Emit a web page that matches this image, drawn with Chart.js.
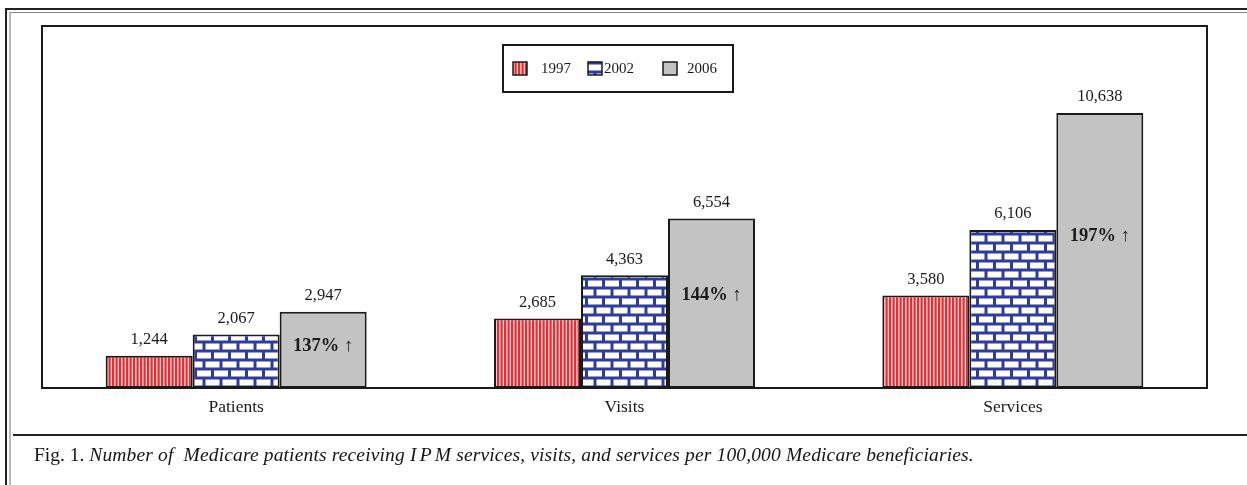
<!DOCTYPE html>
<html>
<head>
<meta charset="utf-8">
<script src="https://cdn.jsdelivr.net/npm/chart.js@4/dist/chart.umd.min.js"></script>
<style>
  html, body { margin: 0; padding: 0; background: #fff; }
  #wrap { position: relative; width: 1247px; height: 485px; overflow: hidden; }
  #chart { position: absolute; left: 0; top: 0; }
  #caption {
    position: absolute; left: 34px; top: 444px; white-space: nowrap;
    font-family: "Liberation Serif", serif; font-size: 19.5px; color: #151515;
  }
  #caption i { letter-spacing: 0.15px; }
  #caption .abbr { letter-spacing: 3.2px; }
</style>
</head>
<body>
<div id="wrap">
  <canvas id="chart" width="1247" height="485"></canvas>
  <div id="caption">Fig. 1. <i>Number of&nbsp; Medicare patients receiving <span class="abbr">IP</span>M services, visits, and services per 100,000 Medicare beneficiaries.</i></div>
</div>
<script>
// Medicare IPM utilisation per 100,000 beneficiaries
const categories = ['Patients', 'Visits', 'Services'];
const years = ['1997', '2002', '2006'];
const values1997 = [1244, 2685, 3580];
const values2002 = [2067, 4363, 6106];
const values2006 = [2947, 6554, 10638];

const SERIF = '"Liberation Serif", "Times New Roman", serif';
const INK = '#1a1a1a';

// --- fill patterns -------------------------------------------------------
function stripePattern() {
  const c = document.createElement('canvas');
  c.width = 7; c.height = 8;
  const g = c.getContext('2d');
  g.fillStyle = '#fcdcdc';
  g.fillRect(0, 0, 7, 8);
  g.fillStyle = '#ec2a30';
  g.fillRect(0, 0, 2.2, 8);
  g.fillRect(3.5, 0, 2.2, 8);
  return g.createPattern(c, 'repeat');
}
function brickPattern() {
  const c = document.createElement('canvas');
  c.width = 17; c.height = 18;
  const g = c.getContext('2d');
  g.fillStyle = '#2f3c9c';
  g.fillRect(0, 0, 17, 18);
  g.fillStyle = '#ffffff';
  g.fillRect(1.5, 1.5, 14, 6);
  g.fillRect(-7, 10.5, 14, 6);
  g.fillRect(10, 10.5, 14, 6);
  return g.createPattern(c, 'repeat');
}
const fills = [stripePattern(), brickPattern(), '#c3c3c3'];

// --- plugins ---------------------------------------------------------------
const framePlugin = {
  id: 'frame',
  beforeDraw(chart) {
    const { ctx, chartArea: a } = chart;
    ctx.save();
    // outer page frame (double rule at top and left)
    ctx.strokeStyle = '#222'; ctx.lineWidth = 2;
    ctx.beginPath();
    ctx.moveTo(6, 485); ctx.lineTo(6, 9); ctx.lineTo(1247, 9);
    ctx.stroke();
    ctx.strokeStyle = '#8a8a8a'; ctx.lineWidth = 1.2;
    ctx.beginPath();
    ctx.moveTo(10, 485); ctx.lineTo(10, 12.5); ctx.lineTo(1247, 12.5);
    ctx.stroke();
    // rule above the caption
    ctx.strokeStyle = '#222'; ctx.lineWidth = 2;
    ctx.beginPath();
    ctx.moveTo(13, 435); ctx.lineTo(1247, 435);
    ctx.stroke();
    // plot box
    ctx.strokeStyle = INK; ctx.lineWidth = 2;
    ctx.strokeRect(a.left, a.top, a.right - a.left, a.bottom - a.top);
    ctx.restore();
  }
};

const labelPlugin = {
  id: 'valueLabels',
  afterDatasetsDraw(chart) {
    const { ctx } = chart;
    const y = chart.scales.y;
    ctx.save();
    ctx.fillStyle = INK;
    ctx.textAlign = 'center';
    ctx.textBaseline = 'middle';
    ctx.font = '16.5px ' + SERIF;
    chart.data.datasets.forEach((ds, di) => {
      chart.getDatasetMeta(di).data.forEach((bar, i) => {
        ctx.fillText(ds.data[i].toLocaleString('en-US'), bar.x, bar.y - 16);
      });
    });
    // growth from 1997 to 2006, written inside the 2006 bar
    ctx.font = 'bold 18.5px ' + SERIF;
    chart.getDatasetMeta(2).data.forEach((bar, i) => {
      const pct = Math.round((values2006[i] - values1997[i]) / values1997[i] * 100);
      ctx.fillText(pct + '% \u2191', bar.x, y.getPixelForValue(values2006[i] * 0.55));
    });
    ctx.restore();
  }
};

const legendPlugin = {
  id: 'boxLegend',
  afterDraw(chart) {
    const { ctx } = chart;
    ctx.save();
    ctx.strokeStyle = INK; ctx.lineWidth = 2;
    ctx.strokeRect(503, 45, 230, 47);
    const swatchX = [513, 588, 663];
    const textX = [541, 604, 687];
    ctx.font = '15px ' + SERIF;
    ctx.textBaseline = 'middle';
    ctx.textAlign = 'left';
    chart.data.datasets.forEach((ds, i) => {
      ctx.fillStyle = ds.backgroundColor;
      ctx.fillRect(swatchX[i], 62, 14, 13);
      ctx.lineWidth = 1.5; ctx.strokeStyle = INK;
      ctx.strokeRect(swatchX[i], 62, 14, 13);
      ctx.fillStyle = INK;
      ctx.fillText(ds.label, textX[i], 69);
    });
    ctx.restore();
  }
};

// --- chart ---------------------------------------------------------------------
new Chart(document.getElementById('chart'), {
  type: 'bar',
  data: {
    labels: categories,
    datasets: [values1997, values2002, values2006].map((vals, i) => ({
      label: years[i],
      data: vals,
      backgroundColor: fills[i],
      borderColor: INK,
      borderWidth: 2,
      borderSkipped: false,
      barPercentage: 1,
      categoryPercentage: 0.672
    }))
  },
  options: {
    responsive: false,
    devicePixelRatio: 1,
    animation: false,
    layout: { padding: { left: 42, right: 40, top: 26, bottom: 47 } },
    plugins: { legend: { display: false }, tooltip: { enabled: false } },
    scales: {
      x: {
        grid: { display: false, drawTicks: false },
        border: { display: false },
        ticks: { color: INK, font: { family: SERIF, size: 17.5 }, padding: 9 },
        afterFit(scale) { scale.height = 50; }
      },
      y: { display: false, min: 0, max: 14000 }
    }
  },
  plugins: [framePlugin, labelPlugin, legendPlugin]
});
</script>
</body>
</html>
